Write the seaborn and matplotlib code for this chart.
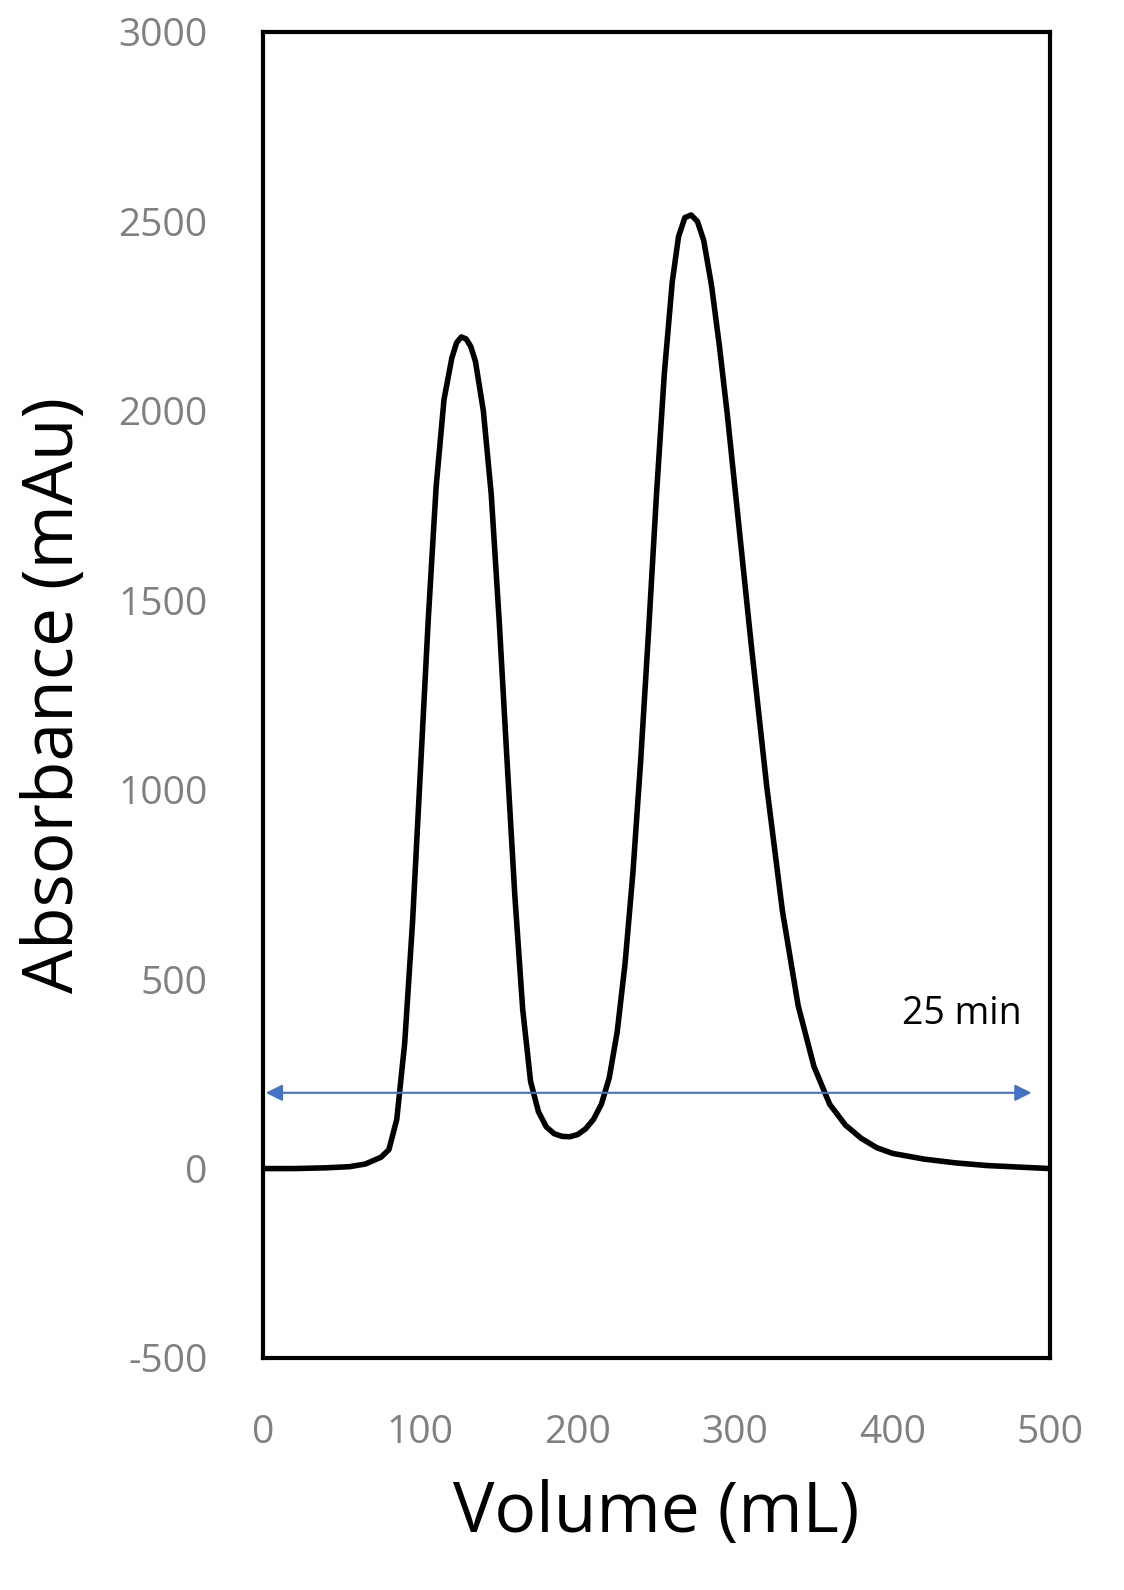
import matplotlib
matplotlib.use("Agg")
import matplotlib.pyplot as plt
import seaborn as sns
import pandas as pd

volume = [0,20,40,55,65,75,80,85,90,95,100,105,110,115,120,123,126,129,132,135,140,145,150,155,160,165,170,175,180,185,190,195,200,205,210,215,220,225,230,235,240,245,250,255,260,264,268,272,276,280,285,290,295,300,310,320,330,340,350,360,370,380,390,400,420,440,460,480,500]
absorb = [0,0,2,5,12,30,50,130,330,650,1050,1450,1800,2030,2140,2180,2195,2190,2170,2130,2000,1780,1450,1080,720,420,230,150,110,92,85,84,90,105,130,170,240,360,540,780,1080,1420,1780,2100,2340,2460,2510,2517,2500,2450,2330,2170,1990,1790,1390,1010,680,430,270,170,115,80,55,40,25,15,8,4,0]
df = pd.DataFrame({"Volume": volume, "Abs": absorb})

sns.set_style("white")
plt.rcParams['font.family'] = ['Open Sans', 'DejaVu Sans']
plt.rcParams['axes.unicode_minus'] = False
fig = plt.figure(figsize=(11.24, 15.9), dpi=100)
ax = fig.add_axes([263/1124, 1-1358/1590, (1050-263)/1124, (1358-32)/1590])
sns.lineplot(data=df, x="Volume", y="Abs", ax=ax, color="black", linewidth=4)
ax.set_xlim(0, 500)
ax.set_ylim(-500, 3000)
ax.set_xticks(range(0, 501, 100))
ax.set_yticks(range(-500, 3001, 500))
ax.tick_params(axis="y", labelsize=28, colors="#808080", length=0, pad=40)
ax.tick_params(axis="x", labelsize=28, colors="#808080", length=0, pad=40)
for lab in ax.get_yticklabels():
    lab.set_color("#808080")
for s in ax.spines.values():
    s.set_color("black"); s.set_linewidth(3)
ax.set_xlabel("Volume (mL)", fontsize=50, labelpad=20, color="black")
ax.set_ylabel("Absorbance (mAu)", fontsize=50, labelpad=20, color="black")
ax.annotate("", xy=(0, 200), xytext=(490, 200),
            arrowprops=dict(arrowstyle="<|-|>", color="#4472C4", lw=1.5, mutation_scale=25))
ax.text(482, 409, "25 min", fontsize=27, ha="right", va="center", color="black")
fig.savefig("out.png", dpi=100)
